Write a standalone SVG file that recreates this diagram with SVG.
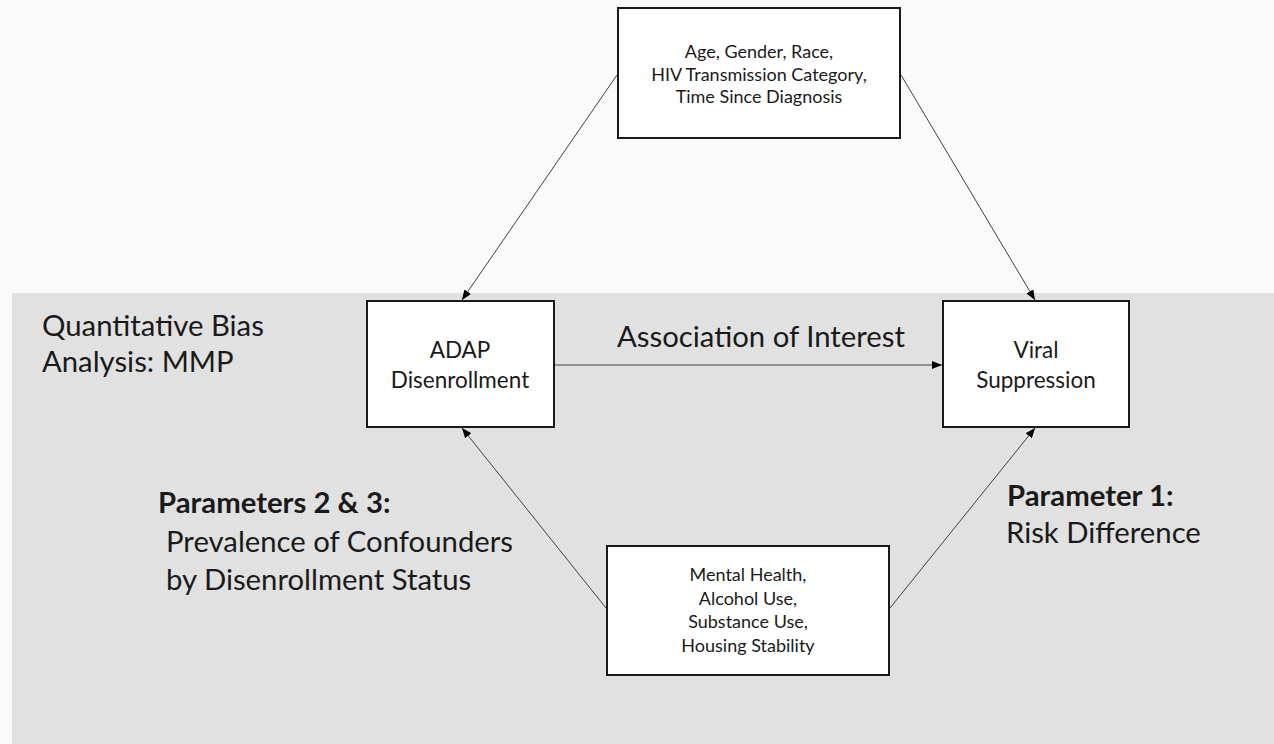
<svg xmlns="http://www.w3.org/2000/svg" width="1274" height="744" viewBox="0 0 1274 744">
<defs>
<marker id="ah" markerWidth="10" markerHeight="8" refX="10" refY="4" orient="auto" markerUnits="userSpaceOnUse">
<path d="M0,0 L10,4 L0,8 Z" fill="#000"/>
</marker>
<style>
.box{fill:#fff;stroke:#1a1a1a;stroke-width:2}
.t{font-family:Lato,"Open Sans",sans-serif;fill:#1a1a1a}
.sm{font-size:18px;text-anchor:middle}
.md{font-size:22.5px;text-anchor:middle}
.lg{font-size:29.3px}
.b{font-weight:bold}
.c{stroke:#404040;stroke-width:1;fill:none;marker-end:url(#ah)}
</style>
</defs>
<rect x="0" y="0" width="1274" height="744" fill="#fafafa"/>
<rect x="12" y="293" width="1262" height="451" fill="#e1e1e1"/>
<g id="labels">
<text class="t lg" x="42" y="336">Quantitative Bias</text>
<text class="t lg" x="42" y="372">Analysis: MMP</text>
<text class="t lg" x="617" y="347">Association of Interest</text>
<text class="t lg b" x="158" y="513">Parameters 2 &amp; 3:</text>
<text class="t lg" x="166" y="552">Prevalence of Confounders</text>
<text class="t lg" x="166" y="590">by Disenrollment Status</text>
<text class="t lg b" x="1007" y="506">Parameter 1:</text>
<text class="t lg" x="1006" y="543">Risk Difference</text>
</g>
<g id="connectors">
<line class="c" x1="617" y1="75" x2="462" y2="300"/>
<line class="c" x1="901" y1="75" x2="1035" y2="300"/>
<line class="c" x1="555" y1="365" x2="942" y2="365"/>
<line class="c" x1="606" y1="608" x2="462" y2="428"/>
<line class="c" x1="890" y1="608" x2="1035" y2="428"/>
</g>
<g id="confounders-top">
<rect class="box" x="618" y="8" width="282" height="130"/>
<text class="t sm" x="759" y="58">Age, Gender, Race,</text>
<text class="t sm" x="759" y="81">HIV Transmission Category,</text>
<text class="t sm" x="759" y="103">Time Since Diagnosis</text>
</g>
<g id="adap">
<rect class="box" x="367" y="301" width="187" height="126"/>
<text class="t md" x="460" y="358">ADAP</text>
<text class="t md" x="460" y="388">Disenrollment</text>
</g>
<g id="viral">
<rect class="box" x="943" y="301" width="186" height="126"/>
<text class="t md" x="1036" y="358">Viral</text>
<text class="t md" x="1036" y="388">Suppression</text>
</g>
<g id="confounders-bottom">
<rect class="box" x="607" y="546" width="282" height="129"/>
<text class="t sm" x="748" y="581">Mental Health,</text>
<text class="t sm" x="748" y="605">Alcohol Use,</text>
<text class="t sm" x="748" y="628">Substance Use,</text>
<text class="t sm" x="748" y="652">Housing Stability</text>
</g>
</svg>
